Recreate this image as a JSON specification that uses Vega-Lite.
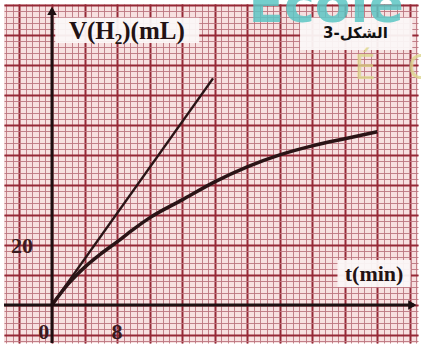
{
  "$schema": "https://vega.github.io/schema/vega-lite/v6.json",
  "width": 414,
  "height": 339,
  "autosize": {"type": "none"},
  "padding": {"left": 4, "top": 4, "right": 3, "bottom": 6},
  "background": "white",
  "config": {"view": {"fill": "#f7e0e0", "stroke": null}},
  "datasets": {
    "curve": [
      {"t": 0, "V": 0}, {"t": 2, "V": 7}, {"t": 4, "V": 12.5}, {"t": 6, "V": 17},
      {"t": 8, "V": 21}, {"t": 10, "V": 25.2}, {"t": 12, "V": 29}, {"t": 16, "V": 35},
      {"t": 20, "V": 41}, {"t": 24, "V": 46}, {"t": 28, "V": 50}, {"t": 32, "V": 53},
      {"t": 36, "V": 55.4}, {"t": 40, "V": 57.7}
    ],
    "tangent": [{"t": 0, "V": 0}, {"t": 19.8, "V": 75.5}],
    "axes": [
      {"x1": -5.9, "x2": 44.5, "y1": 0, "y2": 0},
      {"x1": 0, "x2": 0, "y1": -12.7, "y2": 98.5}
    ],
    "boxes": [
      {"x1": 0.4, "x2": 18.1, "y1": 87.3, "y2": 95.7},
      {"x1": 30.5, "x2": 44.3, "y1": 85, "y2": 95.7},
      {"x1": 35.1, "x2": 44.1, "y1": 6, "y2": 15}
    ]
  },
  "layer": [
    {
      "data": {"name": "curve"},
      "mark": {"type": "line", "interpolate": "monotone", "color": "#2a1416", "strokeWidth": 3.5},
      "encoding": {
        "x": {"field": "t", "type": "quantitative",
          "scale": {"domain": [-5.9, 45], "nice": false, "zero": false},
          "axis": {"orient": "bottom", "grid": true, "gridColor": "#bb7680", "gridWidth": 1, "gridOpacity": 0.9,
            "labels": false, "ticks": false, "domain": false, "title": null,
            "values": [-5.6,-4.8,-4,-3.2,-2.4,-1.6,-0.8,0,0.8,1.6,2.4,3.2,4,4.8,5.6,6.4,7.2,8,8.8,9.6,10.4,11.2,12,12.8,13.6,14.4,15.2,16,16.8,17.6,18.4,19.2,20,20.8,21.6,22.4,23.2,24,24.8,25.6,26.4,27.2,28,28.8,29.6,30.4,31.2,32,32.8,33.6,34.4,35.2,36,36.8,37.6,38.4,39.2,40,40.8,41.6,42.4,43.2,44,44.8]}},
        "y": {"field": "V", "type": "quantitative",
          "scale": {"domain": [-12.7, 100.3], "nice": false, "zero": false},
          "axis": {"orient": "left", "grid": true, "gridColor": "#bb7680", "gridWidth": 1, "gridOpacity": 0.9,
            "labels": false, "ticks": false, "domain": false, "title": null,
            "values": [-12,-10,-8,-6,-4,-2,0,2,4,6,8,10,12,14,16,18,20,22,24,26,28,30,32,34,36,38,40,42,44,46,48,50,52,54,56,58,60,62,64,66,68,70,72,74,76,78,80,82,84,86,88,90,92,94,96,98,100]}}
      }
    },
    {
      "data": {"name": "tangent"},
      "mark": {"type": "line", "color": "#2a1416", "strokeWidth": 2.5},
      "encoding": {
        "x": {"field": "t", "type": "quantitative",
          "axis": {"orient": "top", "grid": true, "gridColor": "#952836", "gridWidth": 2,
            "labels": false, "ticks": false, "domain": false, "title": null,
            "values": [-4,0,4,8,12,16,20,24,28,32,36,40,44]}},
        "y": {"field": "V", "type": "quantitative",
          "axis": {"orient": "right", "grid": true, "gridColor": "#952836", "gridWidth": 2,
            "labels": false, "ticks": false, "domain": false, "title": null,
            "values": [-10,0,10,20,30,40,50,60,70,80,90,100]}}
      }
    },
    {
      "data": {"name": "axes"},
      "mark": {"type": "rule", "color": "#1e1012", "strokeWidth": 3},
      "encoding": {
        "x": {"field": "x1", "type": "quantitative", "axis": null},
        "x2": {"field": "x2"},
        "y": {"field": "y1", "type": "quantitative", "axis": null},
        "y2": {"field": "y2"}
      }
    },
    {
      "data": {"values": [{"t": 44.3, "V": 0}]},
      "mark": {"type": "point", "shape": "triangle-right", "filled": true, "color": "#1e1012", "size": 90, "opacity": 1},
      "encoding": {
        "x": {"field": "t", "type": "quantitative", "axis": null},
        "y": {"field": "V", "type": "quantitative", "axis": null}
      }
    },
    {
      "data": {"values": [{"t": 0, "V": 98}]},
      "mark": {"type": "point", "shape": "triangle-up", "filled": true, "color": "#1e1012", "size": 90, "opacity": 1},
      "encoding": {
        "x": {"field": "t", "type": "quantitative", "axis": null},
        "y": {"field": "V", "type": "quantitative", "axis": null}
      }
    },
    {
      "data": {"name": "boxes"},
      "mark": {"type": "rect", "color": "#fbf7f7", "opacity": 0.95},
      "encoding": {
        "x": {"field": "x1", "type": "quantitative", "axis": null},
        "x2": {"field": "x2"},
        "y": {"field": "y1", "type": "quantitative", "axis": null},
        "y2": {"field": "y2"}
      }
    },
    {
      "data": {"values": [{"t": 9.2, "V": 91.3, "label": "V(H₂)(mL)"}]},
      "mark": {"type": "text", "font": "Liberation Serif", "fontWeight": "bold", "fontSize": 25, "color": "#221214", "baseline": "middle", "align": "center"},
      "encoding": {
        "x": {"field": "t", "type": "quantitative", "axis": null},
        "y": {"field": "V", "type": "quantitative", "axis": null},
        "text": {"field": "label"}
      }
    },
    {
      "data": {"values": [{"t": 39.6, "V": 10.4, "label": "t(min)"}]},
      "mark": {"type": "text", "font": "Liberation Serif", "fontWeight": "bold", "fontSize": 22, "color": "#221214", "baseline": "middle", "align": "center"},
      "encoding": {
        "x": {"field": "t", "type": "quantitative", "axis": null},
        "y": {"field": "V", "type": "quantitative", "axis": null},
        "text": {"field": "label"}
      }
    },
    {
      "data": {"values": [{"t": -3.7, "V": 19.5, "label": "20"}, {"t": -1.0, "V": -9, "label": "0"}, {"t": 8, "V": -9, "label": "8"}]},
      "mark": {"type": "text", "font": "Liberation Serif", "fontWeight": "bold", "fontSize": 22, "color": "#3a1a1e", "baseline": "middle", "align": "center"},
      "encoding": {
        "x": {"field": "t", "type": "quantitative", "axis": null},
        "y": {"field": "V", "type": "quantitative", "axis": null},
        "text": {"field": "label"}
      }
    },
    {
      "data": {"values": [{"t": 37.3, "V": 90.5, "label": "3-الشكل"}]},
      "mark": {"type": "text", "font": "DejaVu Sans", "fontWeight": "bold", "fontSize": 15, "color": "#111111", "baseline": "middle", "align": "center"},
      "encoding": {
        "x": {"field": "t", "type": "quantitative", "axis": null},
        "y": {"field": "V", "type": "quantitative", "axis": null},
        "text": {"field": "label"}
      }
    },
    {
      "data": {"values": [{"t": 33.7, "V": 94.3, "label": "Ecole"}]},
      "mark": {"type": "text", "font": "DejaVu Sans", "fontWeight": "bold", "fontSize": 52, "color": "#5cc6c4", "opacity": 0.85, "baseline": "alphabetic", "align": "center"},
      "encoding": {
        "x": {"field": "t", "type": "quantitative", "axis": null},
        "y": {"field": "V", "type": "quantitative", "axis": null},
        "text": {"field": "label"}
      }
    },
    {
      "data": {"values": [{"t": 38.5, "V": 75.3, "label": "É"}, {"t": 45.2, "V": 75.3, "label": "C"}]},
      "mark": {"type": "text", "font": "DejaVu Sans", "fontSize": 34, "color": "#dcd68c", "opacity": 0.8, "baseline": "alphabetic", "align": "center"},
      "encoding": {
        "x": {"field": "t", "type": "quantitative", "axis": null},
        "y": {"field": "V", "type": "quantitative", "axis": null},
        "text": {"field": "label"}
      }
    }
  ],
  "resolve": {"axis": {"x": "independent", "y": "independent"}}
}
